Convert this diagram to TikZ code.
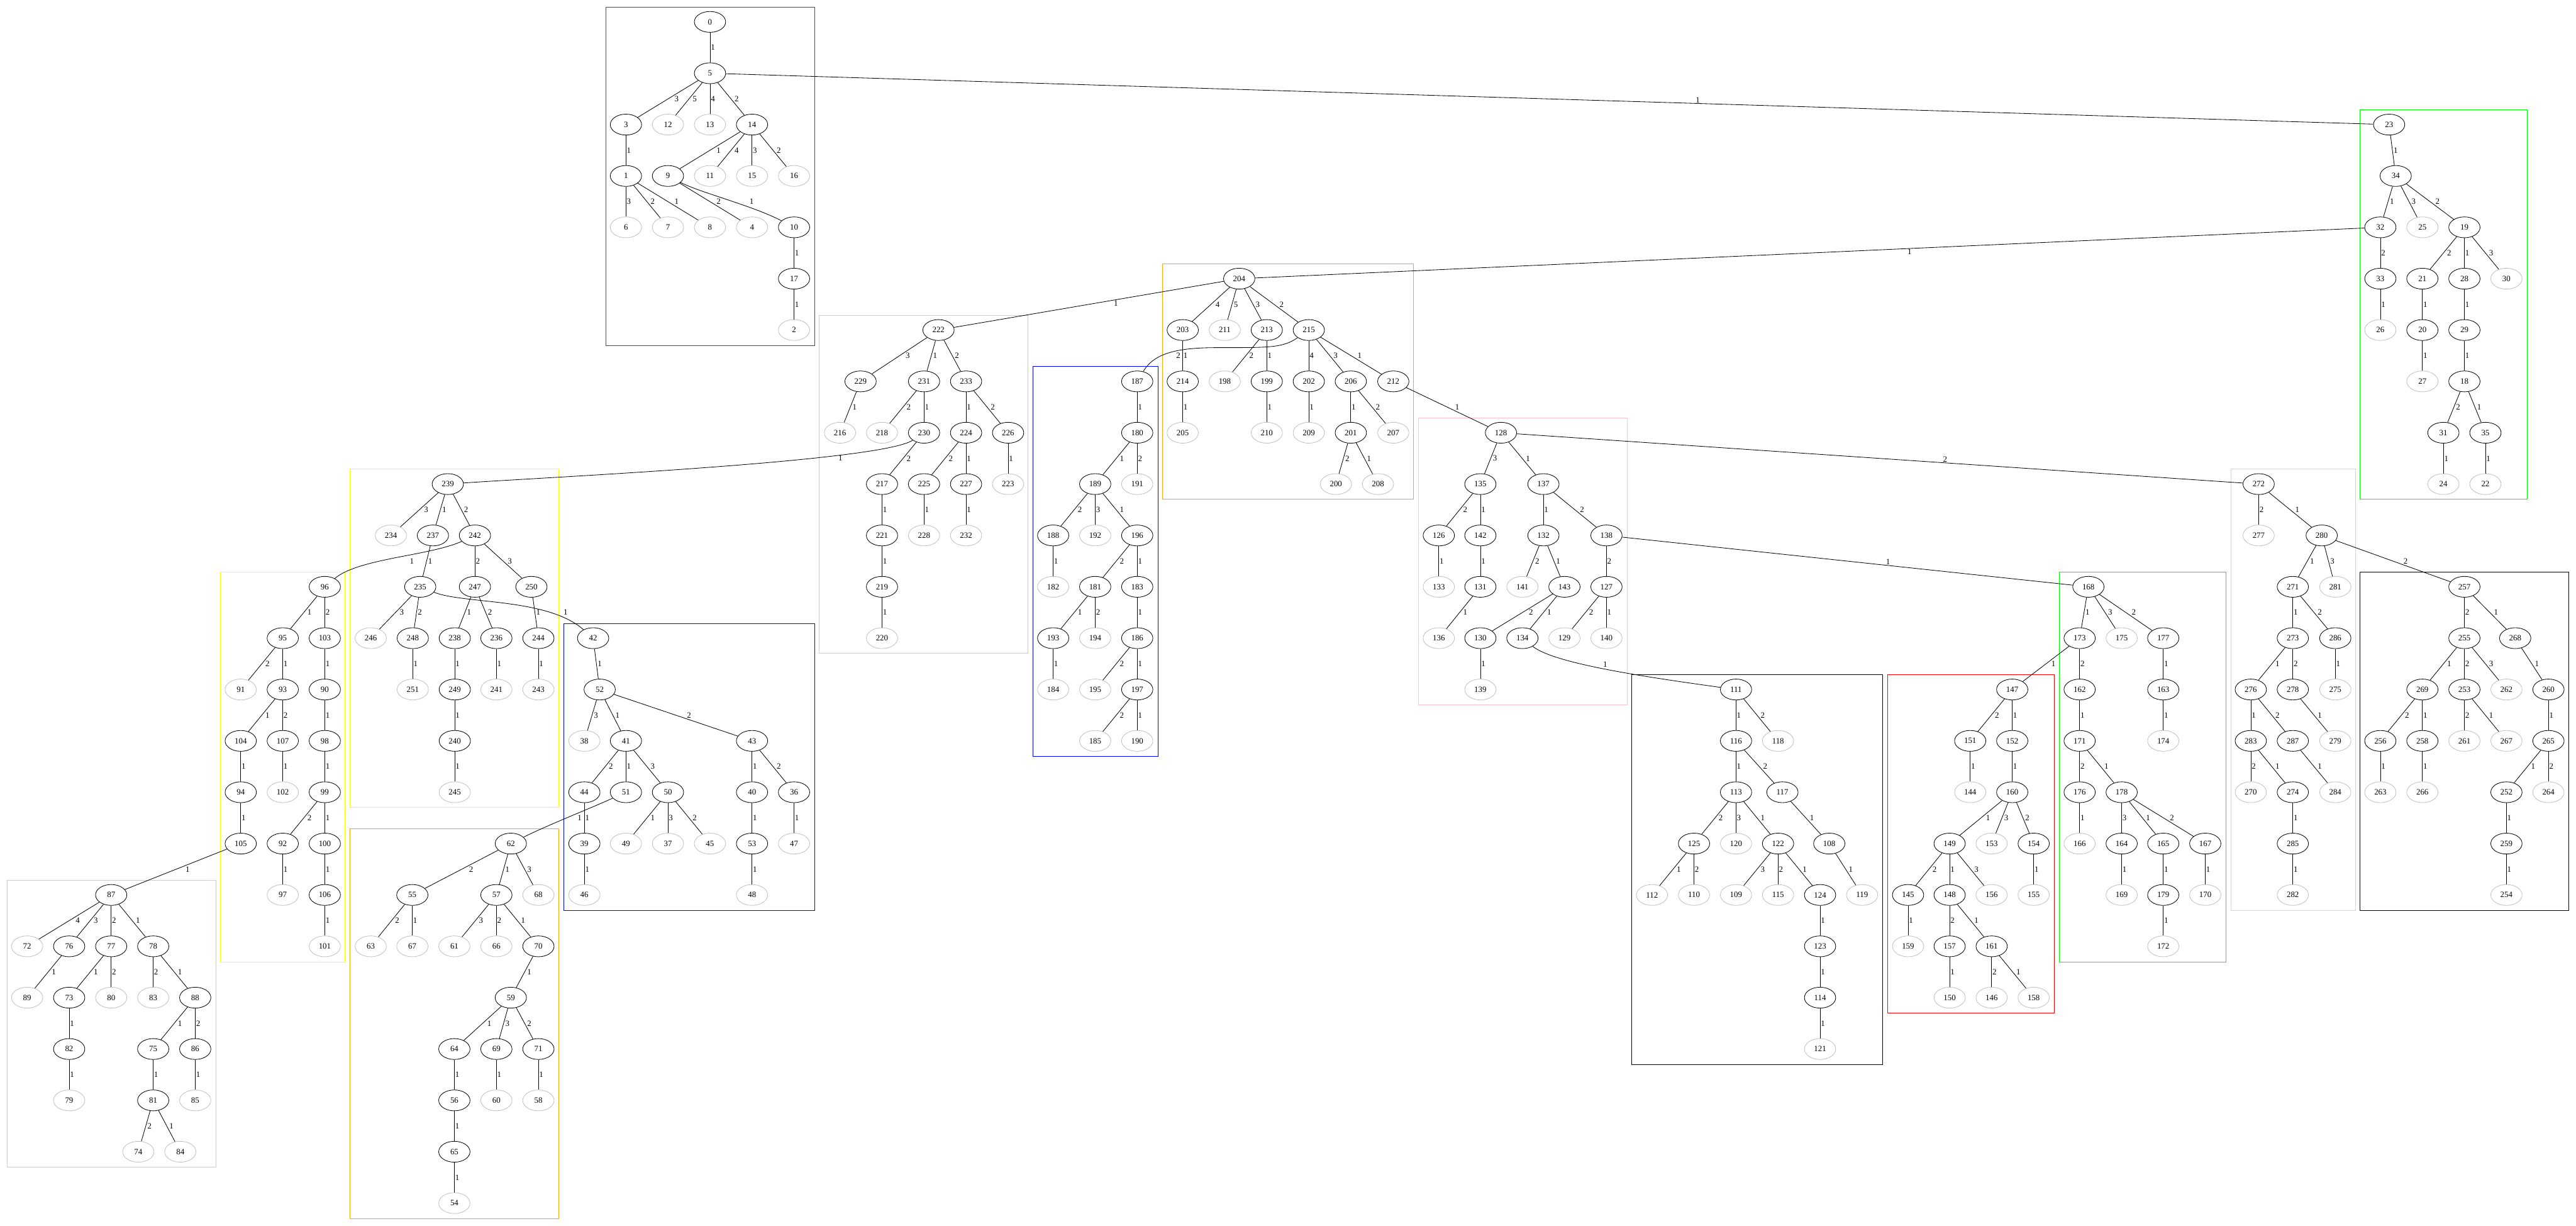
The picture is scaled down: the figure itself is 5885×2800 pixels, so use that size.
\documentclass[tikz,border=0pt]{standalone}
\usepackage{fontspec}
\setmainfont{Liberation Serif}
\usepackage{tikz}
\usetikzlibrary{calc,shapes.geometric}
\definecolor{leafgray}{RGB}{192,192,192}
\definecolor{boxgray}{RGB}{204,204,204}
\definecolor{boxgreen}{RGB}{0,255,0}
\definecolor{boxorange}{RGB}{255,165,0}
\definecolor{boxpink}{RGB}{255,192,203}
\definecolor{boxyellow}{RGB}{255,255,0}
\newcommand{\putrank}[2]{\foreach \n/\x/\s in {#2} \node[\s] (n\n) at (\x,{50+117.3*#1}) {\n};}
\newcommand{\tedge}[3]{\draw[tline] let \p1=(n#1.center), \p2=(n#2.center) in (n#1) -- node[elab, xshift={6*abs(\x2-\x1)/abs(\y2-\y1)}] {#3} (n#2);}

\begin{document}
\begin{tikzpicture}[x=0.755pt, y=-0.755pt, font=\fontsize{14}{16}\selectfont,
  vnode/.style={draw, ellipse, minimum width=54pt, minimum height=36pt, inner sep=0pt, line width=0.9pt},
  vleaf/.style={vnode, draw=leafgray},
  tline/.style={line width=0.9pt},
  elab/.style={anchor=west, inner sep=1pt},
  cbox/.style={line width=1pt}]
\useasboundingbox (0,0) rectangle (5885,2800);

% clusters
\draw[cbox, red] (1384,16) rectangle (1861,789);
\draw[cbox, boxgreen] (5392,250) rectangle (5773,1140);
\draw[cbox, boxgray] (1872,720) rectangle (2349,1492);
\draw[cbox, blue] (2360,837) rectangle (2645,1727);
\draw[cbox, boxorange] (2656,603) rectangle (3229,1140);
\draw[cbox, boxpink] (3240,954) rectangle (3717,1610);
\draw[cbox, boxyellow] (800,1071) rectangle (1277,1844);
\draw[cbox, boxyellow] (504,1307) rectangle (788,2197);
\draw[cbox, blue] (1288,1424) rectangle (1861,2080);
\draw[cbox, boxgray] (16,2010) rectangle (493,2666);
\draw[cbox, boxorange] (800,1893) rectangle (1277,2783);
\draw[cbox] (3727,1541) rectangle (4301,2432);
\draw[cbox, red] (4313,1541) rectangle (4693,2314);
\draw[cbox, boxgreen] (4704,1307) rectangle (5085,2197);
\draw[cbox, boxpink] (5097,1071) rectangle (5381,2079);
\draw[cbox] (5392,1307) rectangle (5869,2079);

% vertices, one rank per line
\putrank{0}{0/1622/vnode}
\putrank{1}{5/1622/vnode}
\putrank{2}{3/1430/vnode, 12/1526/vleaf, 13/1622/vleaf, 14/1718/vnode, 23/5458/vnode}
\putrank{3}{1/1430/vnode, 9/1526/vnode, 11/1622/vleaf, 15/1718/vleaf, 16/1814/vleaf, 34/5473/vnode}
\putrank{4}{6/1430/vleaf, 7/1526/vleaf, 8/1622/vleaf, 4/1718/vleaf, 10/1814/vnode, 32/5438/vnode, 25/5534/vleaf, 19/5630/vnode}
\putrank{5}{17/1814/vnode, 204/2831/vnode, 33/5438/vnode, 21/5534/vnode, 28/5630/vnode, 30/5726/vleaf}
\putrank{6}{2/1814/vleaf, 222/2144/vnode, 203/2702/vnode, 211/2798/vleaf, 213/2894/vnode, 215/2990/vnode, 26/5438/vleaf, 20/5534/vnode, 29/5630/vnode}
\putrank{7}{229/1966/vnode, 231/2111/vnode, 233/2207/vnode, 187/2598/vnode, 214/2702/vnode, 198/2798/vleaf, 199/2894/vnode, 202/2990/vnode, 206/3086/vnode, 212/3183/vnode, 27/5534/vleaf, 18/5630/vnode}
\putrank{8}{216/1919/vleaf, 218/2015/vleaf, 230/2111/vnode, 224/2207/vnode, 226/2303/vnode, 180/2598/vnode, 205/2702/vleaf, 210/2894/vleaf, 209/2990/vleaf, 201/3086/vnode, 207/3183/vleaf, 128/3429/vnode, 31/5582/vnode, 35/5678/vnode}
\putrank{9}{239/1023/vnode, 217/2015/vnode, 225/2111/vnode, 227/2207/vnode, 223/2303/vleaf, 189/2502/vnode, 191/2598/vleaf, 200/3052/vleaf, 208/3148/vleaf, 135/3382/vnode, 137/3526/vnode, 272/5160/vnode, 24/5582/vleaf, 22/5678/vleaf}
\putrank{10}{234/893/vleaf, 237/989/vnode, 242/1085/vnode, 221/2015/vnode, 228/2111/vleaf, 232/2207/vleaf, 188/2406/vnode, 192/2502/vleaf, 196/2598/vnode, 126/3287/vnode, 142/3382/vnode, 132/3526/vnode, 138/3670/vnode, 277/5160/vleaf, 280/5304/vnode}
\putrank{11}{96/742/vnode, 235/960/vnode, 247/1085/vnode, 250/1214/vnode, 219/2015/vnode, 182/2406/vleaf, 181/2502/vnode, 183/2598/vnode, 133/3287/vleaf, 131/3382/vnode, 141/3478/vleaf, 143/3574/vnode, 127/3670/vnode, 168/4771/vnode, 271/5238/vnode, 281/5335/vleaf, 257/5630/vnode}
\putrank{12}{95/646/vnode, 103/742/vnode, 246/847/vleaf, 248/943/vnode, 238/1039/vnode, 236/1134/vnode, 244/1230/vnode, 42/1355/vnode, 220/2015/vleaf, 193/2406/vnode, 194/2502/vleaf, 186/2598/vnode, 136/3287/vleaf, 130/3382/vnode, 134/3478/vnode, 129/3574/vleaf, 140/3670/vleaf, 173/4751/vnode, 175/4847/vleaf, 177/4942/vnode, 273/5238/vnode, 286/5335/vnode, 255/5630/vnode, 268/5746/vnode}
\putrank{13}{91/550/vleaf, 93/646/vnode, 90/742/vnode, 251/943/vleaf, 249/1039/vnode, 241/1134/vleaf, 243/1230/vleaf, 52/1370/vnode, 184/2406/vleaf, 195/2502/vleaf, 197/2598/vnode, 139/3382/vleaf, 111/3966/vnode, 147/4597/vnode, 162/4751/vnode, 163/4942/vnode, 276/5142/vnode, 278/5238/vnode, 275/5335/vleaf, 269/5534/vnode, 253/5630/vnode, 262/5726/vleaf, 260/5822/vnode}
\putrank{14}{104/550/vnode, 107/646/vnode, 98/742/vnode, 240/1039/vnode, 38/1335/vleaf, 41/1430/vnode, 43/1718/vnode, 185/2502/vleaf, 190/2598/vleaf, 116/3966/vnode, 118/4062/vleaf, 151/4501/vnode, 152/4597/vnode, 171/4751/vnode, 174/4942/vleaf, 283/5142/vnode, 287/5238/vnode, 279/5335/vleaf, 256/5438/vnode, 258/5534/vnode, 261/5630/vleaf, 267/5726/vleaf, 265/5822/vnode}
\putrank{15}{94/550/vnode, 102/646/vleaf, 99/742/vnode, 245/1039/vleaf, 44/1335/vnode, 51/1430/vnode, 50/1526/vnode, 40/1718/vnode, 36/1814/vnode, 113/3966/vnode, 117/4072/vnode, 144/4501/vleaf, 160/4597/vnode, 176/4751/vnode, 178/4847/vnode, 270/5142/vleaf, 274/5238/vnode, 284/5335/vleaf, 263/5438/vleaf, 266/5534/vleaf, 252/5726/vnode, 264/5822/vleaf}
\putrank{16}{105/550/vnode, 92/646/vnode, 100/742/vnode, 62/1167/vnode, 39/1335/vnode, 49/1430/vleaf, 37/1526/vleaf, 45/1622/vleaf, 53/1718/vnode, 47/1814/vleaf, 125/3870/vnode, 120/3966/vleaf, 122/4062/vnode, 108/4179/vnode, 149/4454/vnode, 153/4550/vleaf, 154/4646/vnode, 166/4751/vleaf, 164/4847/vnode, 165/4942/vnode, 167/5038/vnode, 285/5238/vnode, 259/5726/vnode}
\putrank{17}{87/254/vnode, 97/646/vleaf, 106/742/vnode, 55/942/vnode, 57/1134/vnode, 68/1230/vleaf, 46/1335/vleaf, 48/1718/vleaf, 112/3774/vleaf, 110/3870/vleaf, 109/3966/vleaf, 115/4062/vleaf, 124/4158/vnode, 119/4254/vleaf, 145/4359/vnode, 148/4454/vnode, 156/4550/vleaf, 155/4646/vleaf, 169/4847/vleaf, 179/4942/vnode, 170/5038/vleaf, 282/5238/vleaf, 254/5726/vleaf}
\putrank{18}{72/62/vleaf, 76/158/vnode, 77/254/vnode, 78/350/vnode, 101/742/vleaf, 63/847/vleaf, 67/942/vleaf, 61/1038/vleaf, 66/1134/vleaf, 70/1230/vnode, 123/4158/vnode, 159/4359/vleaf, 157/4454/vnode, 161/4550/vnode, 172/4942/vleaf}
\putrank{19}{89/62/vleaf, 73/158/vnode, 80/254/vleaf, 83/350/vleaf, 88/446/vnode, 59/1167/vnode, 114/4158/vnode, 150/4454/vleaf, 146/4550/vleaf, 158/4646/vleaf}
\putrank{20}{82/158/vnode, 75/350/vnode, 86/446/vnode, 64/1038/vnode, 69/1134/vnode, 71/1230/vnode, 121/4158/vleaf}
\putrank{21}{79/158/vleaf, 81/350/vnode, 85/446/vleaf, 56/1038/vnode, 60/1134/vleaf, 58/1230/vleaf}
\putrank{22}{74/316/vleaf, 84/412/vleaf, 65/1038/vnode}
\putrank{23}{54/1038/vleaf}

% tree edges, labels to the right
\foreach \pa/\ch/\lb in {0/5/1, 5/3/3, 5/12/5, 5/13/4, 5/14/2, 3/1/1, 14/9/1, 14/11/4, 14/15/3, 14/16/2, 1/6/3, 1/7/2, 1/8/1, 9/4/2, 10/17/1, 17/2/1}
  {\tedge{\pa}{\ch}{\lb}}
\foreach \pa/\ch/\lb in {23/34/1, 34/32/1, 34/25/3, 34/19/2, 32/33/2, 19/21/2, 19/28/1, 19/30/3, 33/26/1, 21/20/1, 28/29/1, 20/27/1, 29/18/1, 18/31/2, 18/35/1, 31/24/1, 35/22/1}
  {\tedge{\pa}{\ch}{\lb}}
\foreach \pa/\ch/\lb in {204/203/4, 204/211/5, 204/213/3, 204/215/2, 203/214/1, 213/198/2, 213/199/1, 215/202/4, 215/206/3, 215/212/1, 214/205/1, 199/210/1, 202/209/1, 206/201/1, 206/207/2, 201/200/2, 201/208/1, 212/128/1}
  {\tedge{\pa}{\ch}{\lb}}
\foreach \pa/\ch/\lb in {222/229/3, 222/231/1, 222/233/2, 229/216/1, 231/218/2, 231/230/1, 233/224/1, 233/226/2, 230/217/2, 224/225/2, 224/227/1, 226/223/1, 217/221/1, 225/228/1, 227/232/1, 221/219/1, 219/220/1}
  {\tedge{\pa}{\ch}{\lb}}
\foreach \pa/\ch/\lb in {187/180/1, 180/189/1, 180/191/2, 189/188/2, 189/192/3, 189/196/1, 188/182/1, 196/181/2, 196/183/1, 181/193/1, 181/194/2, 183/186/1, 193/184/1, 186/195/2, 186/197/1, 197/185/2, 197/190/1}
  {\tedge{\pa}{\ch}{\lb}}
\foreach \pa/\ch/\lb in {128/135/3, 128/137/1, 135/126/2, 135/142/1, 137/132/1, 137/138/2, 126/133/1, 142/131/1, 132/141/2, 132/143/1, 138/127/2, 131/136/1, 143/130/2, 143/134/1, 127/129/2, 127/140/1, 130/139/1}
  {\tedge{\pa}{\ch}{\lb}}
\foreach \pa/\ch/\lb in {239/234/3, 239/237/1, 239/242/2, 237/235/1, 242/247/2, 242/250/3, 235/246/3, 235/248/2, 247/238/1, 247/236/2, 250/244/1, 248/251/1, 238/249/1, 236/241/1, 244/243/1, 249/240/1, 240/245/1}
  {\tedge{\pa}{\ch}{\lb}}
\foreach \pa/\ch/\lb in {96/95/1, 96/103/2, 95/91/2, 95/93/1, 103/90/1, 93/104/1, 93/107/2, 90/98/1, 104/94/1, 107/102/1, 98/99/1, 94/105/1, 99/92/2, 99/100/1, 92/97/1, 100/106/1, 106/101/1, 105/87/1}
  {\tedge{\pa}{\ch}{\lb}}
\foreach \pa/\ch/\lb in {42/52/1, 52/38/3, 52/41/1, 52/43/2, 41/44/2, 41/51/1, 41/50/3, 43/40/1, 43/36/2, 44/39/1, 50/49/1, 50/37/3, 50/45/2, 40/53/1, 36/47/1, 39/46/1, 53/48/1}
  {\tedge{\pa}{\ch}{\lb}}
\foreach \pa/\ch/\lb in {87/72/4, 87/76/3, 87/77/2, 87/78/1, 76/89/1, 77/73/1, 77/80/2, 78/83/2, 78/88/1, 73/82/1, 88/75/1, 88/86/2, 82/79/1, 75/81/1, 86/85/1, 81/74/2, 81/84/1}
  {\tedge{\pa}{\ch}{\lb}}
\foreach \pa/\ch/\lb in {62/55/2, 62/57/1, 62/68/3, 55/63/2, 55/67/1, 57/61/3, 57/66/2, 57/70/1, 70/59/1, 59/64/1, 59/69/3, 59/71/2, 64/56/1, 69/60/1, 71/58/1, 56/65/1, 65/54/1}
  {\tedge{\pa}{\ch}{\lb}}
\foreach \pa/\ch/\lb in {111/116/1, 111/118/2, 116/113/1, 116/117/2, 113/125/2, 113/120/3, 113/122/1, 117/108/1, 125/112/1, 125/110/2, 122/109/3, 122/115/2, 122/124/1, 108/119/1, 124/123/1, 123/114/1, 114/121/1}
  {\tedge{\pa}{\ch}{\lb}}
\foreach \pa/\ch/\lb in {147/151/2, 147/152/1, 151/144/1, 152/160/1, 160/149/1, 160/153/3, 160/154/2, 149/145/2, 149/148/1, 149/156/3, 154/155/1, 145/159/1, 148/157/2, 148/161/1, 157/150/1, 161/146/2, 161/158/1}
  {\tedge{\pa}{\ch}{\lb}}
\foreach \pa/\ch/\lb in {168/173/1, 168/175/3, 168/177/2, 173/147/1, 173/162/2, 177/163/1, 162/171/1, 163/174/1, 171/176/2, 171/178/1, 176/166/1, 178/164/3, 178/165/1, 178/167/2, 164/169/1, 165/179/1, 167/170/1, 179/172/1}
  {\tedge{\pa}{\ch}{\lb}}
\foreach \pa/\ch/\lb in {272/277/2, 272/280/1, 280/271/1, 280/281/3, 280/257/2, 271/273/1, 271/286/2, 273/276/1, 273/278/2, 286/275/1, 276/283/1, 276/287/2, 278/279/1, 283/270/2, 283/274/1, 287/284/1, 274/285/1, 285/282/1}
  {\tedge{\pa}{\ch}{\lb}}
\foreach \pa/\ch/\lb in {257/255/2, 257/268/1, 255/269/1, 255/253/2, 255/262/3, 268/260/1, 269/256/2, 269/258/1, 253/261/2, 253/267/1, 260/265/1, 256/263/1, 258/266/1, 265/252/1, 265/264/2, 252/259/1, 259/254/1}
  {\tedge{\pa}{\ch}{\lb}}

% long edges between clusters
\draw[tline] (n5) -- node[elab, pos=0.59, above] {1} (n23);
\draw[tline] (n32) -- node[elab, pos=0.41, below] {1} (n204);
\draw[tline] (n204) -- node[elab, pos=0.40, below] {1} (n222);
\draw[tline] (n128) -- node[elab, pos=0.59, above] {2} (n272);
\draw[tline] (n138) -- node[elab, pos=0.59, above] {1} (n168);

% curved edges
\draw[tline] (n9) .. controls (1600,440) and (1720,470) .. (n10);
\node[elab, anchor=center] (l9) at (1717,460) {1};
\draw[tline] (n230) .. controls (2010,1055) and (1229,1091) .. (n239);
\node[elab, anchor=center] (l230) at (1920,1047) {1};
\draw[tline] (n215) .. controls (2930,795) and (2900,794) .. (2780,794) .. controls (2680,794) and (2635,810) .. (n187);
\node[elab, anchor=center] (l215) at (2692,812) {2};
\draw[tline] (n242) .. controls (980,1270) and (820,1275) .. (n96);
\node[elab, anchor=center] (l242) at (941,1282) {1};
\draw[tline] (n235) .. controls (1060,1380) and (1250,1365) .. (n42);
\node[elab, anchor=center] (l235) at (1292,1399) {1};
\draw[tline] (n51) .. controls (1340,1850) and (1250,1885) .. (n62);
\node[elab, anchor=center] (l51) at (1324,1868) {1};
\draw[tline] (n134) .. controls (3550,1515) and (3750,1545) .. (n111);
\node[elab, anchor=center] (l134) at (3667,1517) {1};
\end{tikzpicture}
\end{document}
